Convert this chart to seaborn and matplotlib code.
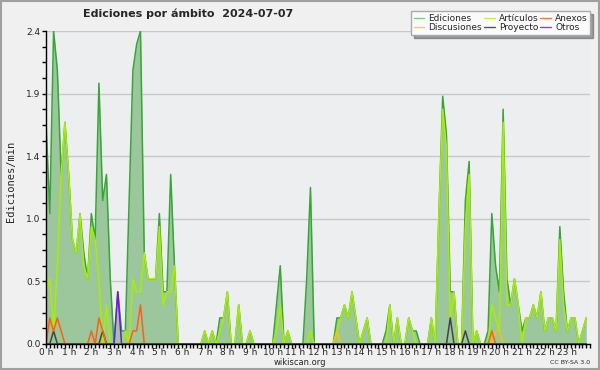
import numpy as np
import pandas as pd
import matplotlib
matplotlib.use("Agg")
import matplotlib.pyplot as plt
from matplotlib.lines import Line2D
from matplotlib.patches import Rectangle
from matplotlib.ticker import MultipleLocator, FixedLocator
import seaborn as sns

# Ediciones por minuto, tramos de 10 minutos (12 valores = 2 horas por fila)
ediciones = [
    1.7, 1.0, 2.4, 2.1, 1.3, 1.7, 1.3, 0.8, 0.7, 1.0, 0.7, 0.5,  # 0h
    1.0, 0.8, 2.0, 1.1, 1.3, 0.5, 0.0, 0.4, 0.1, 0.1, 1.1, 2.1,  # 2h
    2.3, 2.4, 0.7, 0.5, 0.5, 0.5, 1.0, 0.4, 0.4, 1.3, 0.6, 0.0,  # 4h
    0.0, 0.0, 0.0, 0.0, 0.0, 0.0, 0.1, 0.0, 0.1, 0.0, 0.2, 0.2,  # 6h
    0.4, 0.0, 0.0, 0.3, 0.0, 0.0, 0.1, 0.0, 0.0, 0.0, 0.0, 0.0,  # 8h
    0.0, 0.3, 0.6, 0.0, 0.1, 0.0, 0.0, 0.0, 0.0, 0.5, 1.2, 0.0,  # 10h
    0.0, 0.0, 0.0, 0.0, 0.0, 0.2, 0.2, 0.3, 0.2, 0.4, 0.2, 0.0,  # 12h
    0.1, 0.2, 0.0, 0.0, 0.0, 0.0, 0.1, 0.3, 0.0, 0.2, 0.0, 0.0,  # 14h
    0.2, 0.1, 0.1, 0.0, 0.0, 0.0, 0.2, 0.0, 1.0, 1.9, 1.6, 0.4,  # 16h
    0.4, 0.0, 0.0, 1.1, 1.4, 0.0, 0.1, 0.0, 0.0, 0.1, 1.0, 0.6,  # 18h
    0.4, 1.8, 0.5, 0.3, 0.5, 0.3, 0.1, 0.2, 0.2, 0.3, 0.2, 0.4,  # 20h
    0.1, 0.2, 0.2, 0.1, 0.9, 0.4, 0.1, 0.2, 0.2, 0.0, 0.1, 0.2,  # 22h
]
articulos = [
    0.4, 0.5, 0.1, 0.6, 1.3, 1.7, 1.3, 0.8, 0.7, 1.0, 0.6, 0.5,
    0.9, 0.8, 0.5, 0.0, 0.3, 0.0, 0.0, 0.0, 0.0, 0.1, 0.0, 0.5,
    0.4, 0.4, 0.7, 0.5, 0.5, 0.5, 0.9, 0.3, 0.4, 0.4, 0.6, 0.0,
    0.0, 0.0, 0.0, 0.0, 0.0, 0.0, 0.1, 0.0, 0.1, 0.0, 0.1, 0.2,
    0.4, 0.0, 0.0, 0.3, 0.0, 0.0, 0.1, 0.0, 0.0, 0.0, 0.0, 0.0,
    0.0, 0.1, 0.3, 0.0, 0.1, 0.0, 0.0, 0.0, 0.0, 0.0, 0.1, 0.0,
    0.0, 0.0, 0.0, 0.0, 0.0, 0.1, 0.2, 0.3, 0.2, 0.4, 0.2, 0.0,
    0.1, 0.2, 0.0, 0.0, 0.0, 0.0, 0.0, 0.3, 0.0, 0.2, 0.0, 0.0,
    0.2, 0.1, 0.0, 0.0, 0.0, 0.0, 0.2, 0.0, 1.0, 1.8, 1.5, 0.2,
    0.4, 0.0, 0.0, 0.9, 1.3, 0.0, 0.1, 0.0, 0.0, 0.0, 0.3, 0.2,
    0.1, 1.7, 0.3, 0.3, 0.5, 0.3, 0.0, 0.2, 0.2, 0.3, 0.2, 0.4,
    0.1, 0.2, 0.2, 0.1, 0.8, 0.3, 0.1, 0.2, 0.2, 0.0, 0.1, 0.2,
]
anexos = [
    0.0, 0.2, 0.1, 0.2, 0.1, 0.0, 0.0, 0.0, 0.0, 0.0, 0.0, 0.0,
    0.1, 0.0, 0.2, 0.1, 0.0, 0.0, 0.0, 0.0, 0.0, 0.0, 0.0, 0.1,
    0.1, 0.3, 0.0, 0.0, 0.0, 0.0, 0.0, 0.0, 0.0, 0.0, 0.0, 0.0,
    0.0, 0.0, 0.0, 0.0, 0.0, 0.0, 0.0, 0.0, 0.0, 0.0, 0.0, 0.0,
    0.0, 0.0, 0.0, 0.0, 0.0, 0.0, 0.0, 0.0, 0.0, 0.0, 0.0, 0.0,
    0.0, 0.0, 0.0, 0.0, 0.0, 0.0, 0.0, 0.0, 0.0, 0.0, 0.0, 0.0,
    0.0, 0.0, 0.0, 0.0, 0.0, 0.0, 0.0, 0.0, 0.0, 0.0, 0.0, 0.0,
    0.0, 0.0, 0.0, 0.0, 0.0, 0.0, 0.0, 0.0, 0.0, 0.0, 0.0, 0.0,
    0.0, 0.0, 0.0, 0.0, 0.0, 0.0, 0.0, 0.0, 0.0, 0.0, 0.0, 0.0,
    0.0, 0.0, 0.0, 0.0, 0.0, 0.0, 0.0, 0.0, 0.0, 0.0, 0.1, 0.0,
    0.0, 0.0, 0.0, 0.0, 0.0, 0.0, 0.0, 0.0, 0.0, 0.0, 0.0, 0.0,
    0.0, 0.0, 0.0, 0.0, 0.0, 0.0, 0.0, 0.0, 0.0, 0.0, 0.0, 0.0,
]
discusiones = [
    0.0, 0.0, 0.0, 0.0, 0.0, 0.0, 0.0, 0.0, 0.0, 0.0, 0.0, 0.0,
    0.0, 0.0, 0.0, 0.0, 0.0, 0.0, 0.0, 0.0, 0.0, 0.0, 0.0, 0.0,
    0.0, 0.0, 0.0, 0.0, 0.0, 0.0, 0.0, 0.0, 0.0, 0.0, 0.0, 0.0,
    0.0, 0.0, 0.0, 0.0, 0.0, 0.0, 0.0, 0.0, 0.0, 0.0, 0.0, 0.0,
    0.0, 0.0, 0.0, 0.0, 0.0, 0.0, 0.0, 0.0, 0.0, 0.0, 0.0, 0.0,
    0.0, 0.0, 0.0, 0.0, 0.0, 0.0, 0.0, 0.0, 0.0, 0.0, 0.0, 0.0,
    0.0, 0.0, 0.0, 0.0, 0.0, 0.1, 0.0, 0.0, 0.0, 0.0, 0.0, 0.0,
    0.0, 0.0, 0.0, 0.0, 0.0, 0.0, 0.0, 0.0, 0.0, 0.0, 0.0, 0.0,
    0.0, 0.0, 0.0, 0.0, 0.0, 0.0, 0.0, 0.0, 0.0, 0.0, 0.0, 0.0,
    0.0, 0.0, 0.0, 0.0, 0.0, 0.0, 0.0, 0.0, 0.0, 0.0, 0.0, 0.1,
    0.1, 0.0, 0.0, 0.0, 0.0, 0.0, 0.0, 0.0, 0.0, 0.0, 0.0, 0.0,
    0.0, 0.0, 0.0, 0.0, 0.0, 0.0, 0.0, 0.0, 0.0, 0.0, 0.0, 0.0,
]
proyecto = [
    0.0, 0.0, 0.1, 0.0, 0.0, 0.0, 0.0, 0.0, 0.0, 0.0, 0.0, 0.0,
    0.0, 0.0, 0.0, 0.1, 0.0, 0.0, 0.0, 0.0, 0.0, 0.0, 0.0, 0.0,
    0.0, 0.0, 0.0, 0.0, 0.0, 0.0, 0.0, 0.0, 0.0, 0.0, 0.0, 0.0,
    0.0, 0.0, 0.0, 0.0, 0.0, 0.0, 0.0, 0.0, 0.0, 0.0, 0.0, 0.0,
    0.0, 0.0, 0.0, 0.0, 0.0, 0.0, 0.0, 0.0, 0.0, 0.0, 0.0, 0.0,
    0.0, 0.0, 0.0, 0.0, 0.0, 0.0, 0.0, 0.0, 0.0, 0.0, 0.0, 0.0,
    0.0, 0.0, 0.0, 0.0, 0.0, 0.0, 0.0, 0.0, 0.0, 0.0, 0.0, 0.0,
    0.0, 0.0, 0.0, 0.0, 0.0, 0.0, 0.0, 0.0, 0.0, 0.0, 0.0, 0.0,
    0.0, 0.0, 0.0, 0.0, 0.0, 0.0, 0.0, 0.0, 0.0, 0.0, 0.0, 0.2,
    0.0, 0.0, 0.0, 0.1, 0.0, 0.0, 0.0, 0.0, 0.0, 0.0, 0.0, 0.0,
    0.0, 0.0, 0.0, 0.0, 0.0, 0.0, 0.0, 0.0, 0.0, 0.0, 0.0, 0.0,
    0.0, 0.0, 0.0, 0.0, 0.0, 0.0, 0.0, 0.0, 0.0, 0.0, 0.0, 0.0,
]
otros = [
    0.0, 0.0, 0.0, 0.0, 0.0, 0.0, 0.0, 0.0, 0.0, 0.0, 0.0, 0.0,
    0.0, 0.0, 0.0, 0.0, 0.0, 0.0, 0.0, 0.4, 0.0, 0.0, 0.0, 0.0,
] + [0.0] * 120

hour_labels = [f"{h} h" for h in range(24)]
y_ticks = [0.0, 0.48, 0.96, 1.44, 1.92, 2.4]

# Eje temporal: tramos de 10 minutos, en horas
horas = np.arange(len(ediciones)) * 10 / 60
df = pd.DataFrame({
    "hora": horas,
    "Ediciones": ediciones,
    "Artículos": articulos,
    "Anexos": anexos,
    "Discusiones": discusiones,
    "Proyecto": proyecto,
    "Otros": otros,
})

sns.set_style("white")
plt.rcParams["font.family"] = ["DejaVu Sans"]

fig = plt.figure(figsize=(6, 3.7), dpi=100, facecolor="#f0f0f0")
ax = fig.add_axes([0.0767, 0.0703, 0.9067, 0.8459])
ax.set_facecolor("#eceef0")

# Área total de ediciones
ax.fill_between(df["hora"], df["Ediciones"], color="#9cc79c", lw=0, zorder=2)
series = [
    ("Ediciones", "#36a636"),
    ("Artículos", "#a8ee00"),
    ("Discusiones", "#f5c400"),
    ("Proyecto", "#444444"),
    ("Anexos", "#ff6010"),
    ("Otros", "#7a10f0"),
]
for name, color in series:
    sns.lineplot(data=df, x="hora", y=name, color=color, lw=1.1, ax=ax,
                 zorder=3)

ax.set_xlim(0, 24)
ax.set_ylim(0, 2.4)
ax.xaxis.set_major_locator(FixedLocator(range(24)))
ax.set_xticklabels(hour_labels)
ax.xaxis.set_minor_locator(MultipleLocator(1 / 6))
ax.yaxis.set_major_locator(FixedLocator(y_ticks))
ax.set_yticklabels([f"{v:.1f}" for v in y_ticks])
ax.yaxis.set_minor_locator(MultipleLocator(0.12))
ax.tick_params(axis="both", which="both", direction="out", length=3,
               width=1, color="black", labelsize=6.5, pad=1, left=True,
               bottom=True)
ax.tick_params(axis="x", which="major", pad=0)
ax.grid(axis="y", which="major", color="#c8c8c8", lw=1)
ax.set_axisbelow(True)
for side in ["top", "right"]:
    ax.spines[side].set_visible(False)
for side in ["left", "bottom"]:
    ax.spines[side].set_color("black")
    ax.spines[side].set_linewidth(1)
    ax.spines[side].set_zorder(10)
ax.set_xlabel("")
ax.set_ylabel("")

fig.text(0.018, 0.51, "Ediciones/min", rotation=90, ha="center",
         va="center", fontsize=7.5, family="DejaVu Sans Mono")
fig.text(0.313, 0.962, "Ediciones por ámbito  2024-07-07", ha="center",
         va="center", fontsize=8, fontweight="bold")
fig.text(0.5, 0.019, "wikiscan.org", ha="center", va="center", fontsize=6)
fig.text(0.983, 0.019, "CC BY-SA 3.0", ha="right", va="center",
         fontsize=4.5)

# Leyenda
leg_items = [
    ("Ediciones", "#80c880"),
    ("Discusiones", "#f8d040"),
    ("Artículos", "#c8f050"),
    ("Proyecto", "#555555"),
    ("Anexos", "#f07848"),
    ("Otros", "#9040e0"),
]
handles = [Line2D([], [], color=c, lw=1) for _, c in leg_items]
leg = fig.legend(handles, [n for n, _ in leg_items], ncol=3,
                 loc="upper right", bbox_to_anchor=(0.984, 0.97),
                 fontsize=6.5, frameon=True, fancybox=False, shadow=True,
                 handlelength=1.2, handletextpad=0.45, columnspacing=0.2,
                 labelspacing=0.05, borderpad=0.3, borderaxespad=0)
leg.get_frame().set_edgecolor("#aaaaaa")
leg.get_frame().set_facecolor("#fafafa")
leg.get_frame().set_linewidth(1)

fig.patches.append(Rectangle((0.002, 0.003), 0.996, 0.994,
                             transform=fig.transFigure, fill=False,
                             edgecolor="#a0a0a0", lw=1.5))

fig.savefig("out.png", dpi=100, facecolor=fig.get_facecolor())
